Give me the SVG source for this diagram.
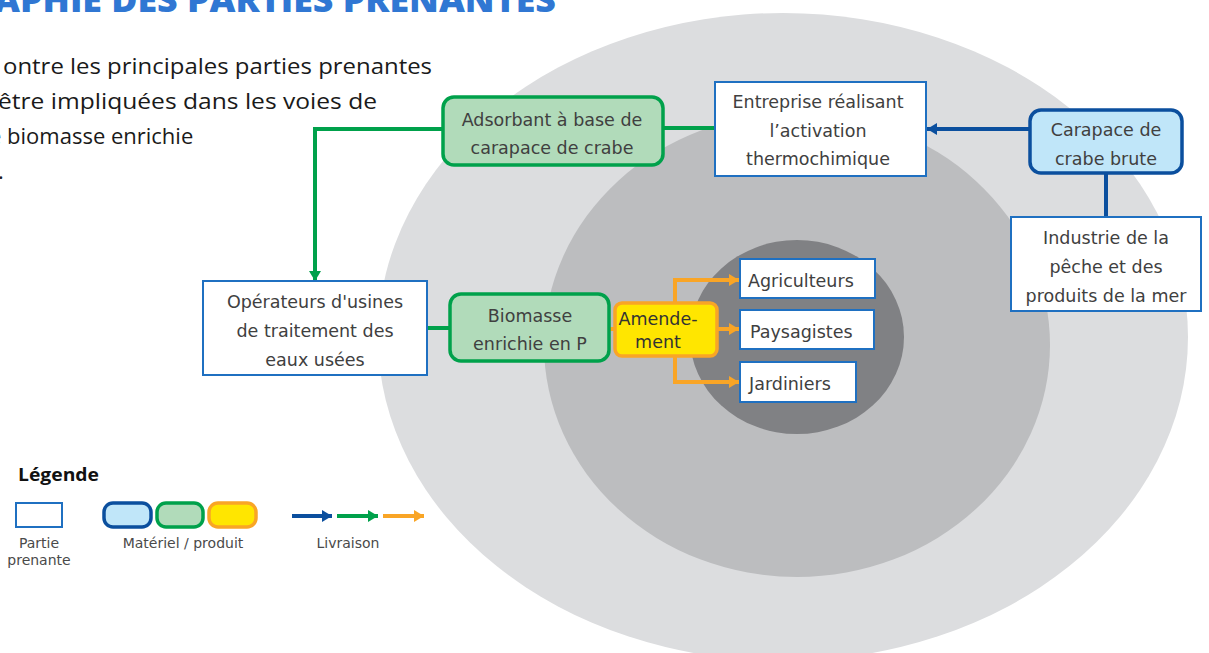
<svg xmlns="http://www.w3.org/2000/svg" width="1209" height="653" viewBox="0 0 1209 653">
<defs>
<style>
.box{fill:#ffffff;stroke:#1f70c1;stroke-width:2}
.mat-b{fill:#c0e6f9;stroke:#0b4f9e;stroke-width:3.5}
.mat-g{fill:#b1dbba;stroke:#00a14b;stroke-width:3.5}
.mat-o{fill:#ffe600;stroke:#f9a526;stroke-width:3.5}
.t{font-family:"DejaVu Sans",Verdana,sans-serif;font-size:17.5px;fill:#404040;text-anchor:middle}
.tl{font-family:"DejaVu Sans",Verdana,sans-serif;font-size:17.5px;fill:#404040}
.lg{font-family:"DejaVu Sans",Verdana,sans-serif;font-size:14px;fill:#4a4a4a;text-anchor:middle}
.para{font-family:"Open Sans","Noto Sans",sans-serif;font-size:22px;fill:#1a1a1a}
.cb{fill:none;stroke:#0b4f9e;stroke-width:4}
.cg{fill:none;stroke:#00a14b;stroke-width:4}
.co{fill:none;stroke:#f9a526;stroke-width:4}
</style>
<marker id="ab" markerUnits="userSpaceOnUse" markerWidth="10" markerHeight="12" refX="10" refY="6" orient="auto"><path d="M0,0 L10,6 L0,12 z" fill="#0b4f9e"/></marker>
<marker id="ag" markerUnits="userSpaceOnUse" markerWidth="10" markerHeight="12" refX="10" refY="6" orient="auto"><path d="M0,0 L10,6 L0,12 z" fill="#00a14b"/></marker>
<marker id="ao" markerUnits="userSpaceOnUse" markerWidth="10" markerHeight="12" refX="10" refY="6" orient="auto"><path d="M0,0 L10,6 L0,12 z" fill="#f9a526"/></marker>
</defs>
<rect width="1209" height="653" fill="#ffffff"/>
<g id="background">
<ellipse cx="783" cy="337" rx="405" ry="324" fill="#dcdddf"/>
<ellipse cx="797" cy="345" rx="253" ry="232" fill="#bcbdbf"/>
<ellipse cx="797" cy="337" rx="107" ry="97" fill="#808184"/>
</g>
<g id="title">
<text x="-6" y="12" font-family="'Open Sans','Noto Sans',sans-serif" font-weight="800" font-size="34" fill="#3077d3" textLength="562" lengthAdjust="spacingAndGlyphs">APHIE DES PARTIES PRENANTES</text>
<text class="para" x="3" y="74" textLength="429" lengthAdjust="spacingAndGlyphs">ontre les principales parties prenantes</text>
<text class="para" x="-2" y="109" textLength="379" lengthAdjust="spacingAndGlyphs">être impliquées dans les voies de</text>
<text class="para" x="-11" y="144">e biomasse enrichie</text>
<text class="para" x="-2" y="179">.</text>
</g>
<g id="connectors">
<path class="cb" d="M1030,129 L927,129" marker-end="url(#ab)"/>
<path class="cb" d="M1106,173 L1106,217"/>
<path class="cg" d="M715,128 L663,128"/>
<path class="cg" d="M443,129 L315,129 L315,281" marker-end="url(#ag)"/>
<path class="cg" d="M427,328 L450,328"/>
<path class="co" d="M609,329 L615,329"/>
<path class="co" d="M675,303 L675,280 L739,280" marker-end="url(#ao)"/>
<path class="co" d="M717,329 L739,329" marker-end="url(#ao)"/>
<path class="co" d="M675,356 L675,382 L739,382" marker-end="url(#ao)"/>
</g>
<g id="node-adsorbant">
<rect class="mat-g" x="443" y="97" width="220" height="68" rx="11"/>
<text class="t" x="552" y="126">Adsorbant à base de</text>
<text class="t" x="552" y="154">carapace de crabe</text>
</g>
<g id="node-entreprise">
<rect class="box" x="715" y="82" width="211" height="94"/>
<text class="t" x="818" y="108">Entreprise réalisant</text>
<text class="t" x="818" y="137">l’activation</text>
<text class="t" x="818" y="165">thermochimique</text>
</g>
<g id="node-carapace">
<rect class="mat-b" x="1030" y="110" width="152" height="63" rx="11"/>
<text class="t" x="1106" y="136">Carapace de</text>
<text class="t" x="1106" y="165">crabe brute</text>
</g>
<g id="node-industrie">
<rect class="box" x="1011" y="217" width="190" height="94"/>
<text class="t" x="1106" y="244">Industrie de la</text>
<text class="t" x="1106" y="273">pêche et des</text>
<text class="t" x="1106" y="302">produits de la mer</text>
</g>
<g id="node-operateurs">
<rect class="box" x="203" y="281" width="224" height="94"/>
<text class="t" x="315" y="308">Opérateurs d'usines</text>
<text class="t" x="315" y="337">de traitement des</text>
<text class="t" x="315" y="366">eaux usées</text>
</g>
<g id="node-biomasse">
<rect class="mat-g" x="450" y="294" width="159" height="67" rx="11"/>
<text class="t" x="530" y="322">Biomasse</text>
<text class="t" x="530" y="350">enrichie en P</text>
</g>
<g id="node-amendement">
<rect class="mat-o" x="615" y="303" width="102" height="53" rx="7"/>
<text class="t" x="658" y="325" style="fill:#333">Amende-</text>
<text class="t" x="658" y="348" style="fill:#333">ment</text>
</g>
<g id="node-agriculteurs">
<rect class="box" x="740" y="259" width="135" height="39"/>
<text class="tl" x="748" y="287">Agriculteurs</text>
</g>
<g id="node-paysagistes">
<rect class="box" x="740" y="310" width="134" height="39"/>
<text class="tl" x="750" y="338">Paysagistes</text>
</g>
<g id="node-jardiniers">
<rect class="box" x="740" y="362" width="116" height="40"/>
<text class="tl" x="749" y="390">Jardiniers</text>
</g>
<g id="legend">
<text x="18" y="481" font-family="'Open Sans','Noto Sans',sans-serif" font-weight="bold" font-size="17" fill="#111" textLength="81" lengthAdjust="spacingAndGlyphs">Légende</text>
<rect class="box" x="16" y="503" width="46" height="24"/>
<text class="lg" x="39" y="548">Partie</text>
<text class="lg" x="39" y="565">prenante</text>
<rect class="mat-b" x="104" y="503" width="47" height="24" rx="9"/>
<rect class="mat-g" x="157" y="503" width="46" height="24" rx="9"/>
<rect class="mat-o" x="209" y="503" width="47" height="24" rx="9"/>
<text class="lg" x="183" y="548">Matériel / produit</text>
<path class="cb" d="M292,516 L332,516" marker-end="url(#ab)"/>
<path class="cg" d="M337,516 L378,516" marker-end="url(#ag)"/>
<path class="co" d="M383,516 L424,516" marker-end="url(#ao)"/>
<text class="lg" x="348" y="548">Livraison</text>
</g>
</svg>
